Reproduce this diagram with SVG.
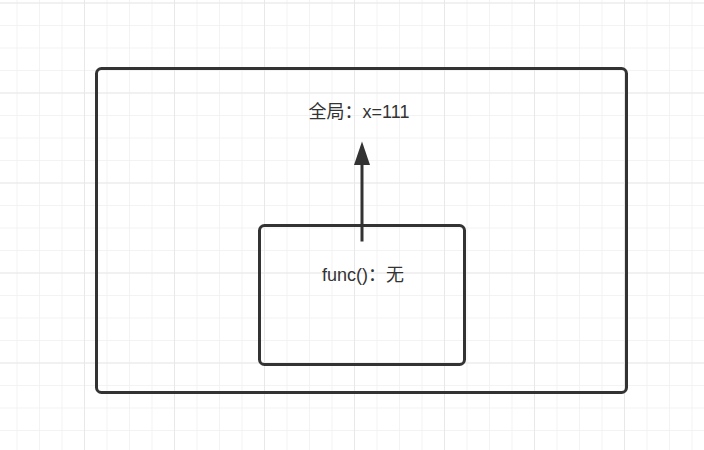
<svg xmlns="http://www.w3.org/2000/svg" width="704" height="450" viewBox="0 0 704 450">
  <defs>
    <pattern id="minor" x="16.5" y="2.5" width="22.5" height="22.5" patternUnits="userSpaceOnUse">
      <path d="M0 0 H22.5 M0 0 V22.5" fill="none" stroke="#f0f0f0" stroke-width="1.5"/>
    </pattern>
    <pattern id="major" x="-6" y="2.5" width="90" height="90" patternUnits="userSpaceOnUse">
      <path d="M0 0 H90 M0 0 V90" fill="none" stroke="#e8e8e8" stroke-width="2"/>
    </pattern>
    <marker id="arrow" markerWidth="16" markerHeight="24" viewBox="0 0 16 24" refX="8" refY="23" orient="auto-start-reverse" markerUnits="userSpaceOnUse">
      <path d="M8 0 L16 24 L0 24 Z" fill="#333333"/>
    </marker>
  </defs>
  <style>
    .box { fill: none; stroke: #333333; stroke-width: 3; }
    .lbl { font-family: "Liberation Sans", "Noto Sans CJK SC", sans-serif; font-size: 18px; fill: #333333; text-anchor: middle; }
    .edge { stroke: #333333; stroke-width: 3; fill: none; }
  </style>
  <rect width="704" height="450" fill="#ffffff"/>
  <rect width="704" height="450" fill="url(#minor)"/>
  <rect width="704" height="450" fill="url(#major)"/>

  <g id="global">
    <rect class="box" x="96.5" y="68.5" width="530" height="324" rx="5"/>
    <text class="lbl" x="359" y="118">全局：x=111</text>
  </g>

  <g id="func">
    <rect class="box" x="259.5" y="225.5" width="205" height="139" rx="5"/>
    <text class="lbl" x="363" y="281">func()：无</text>
  </g>

  <g id="connectors">
    <path class="edge" d="M362 241.5 V164"/>
    <path d="M362 141.5 L370 165 L354 165 Z" fill="#333333"/>
  </g>
</svg>
